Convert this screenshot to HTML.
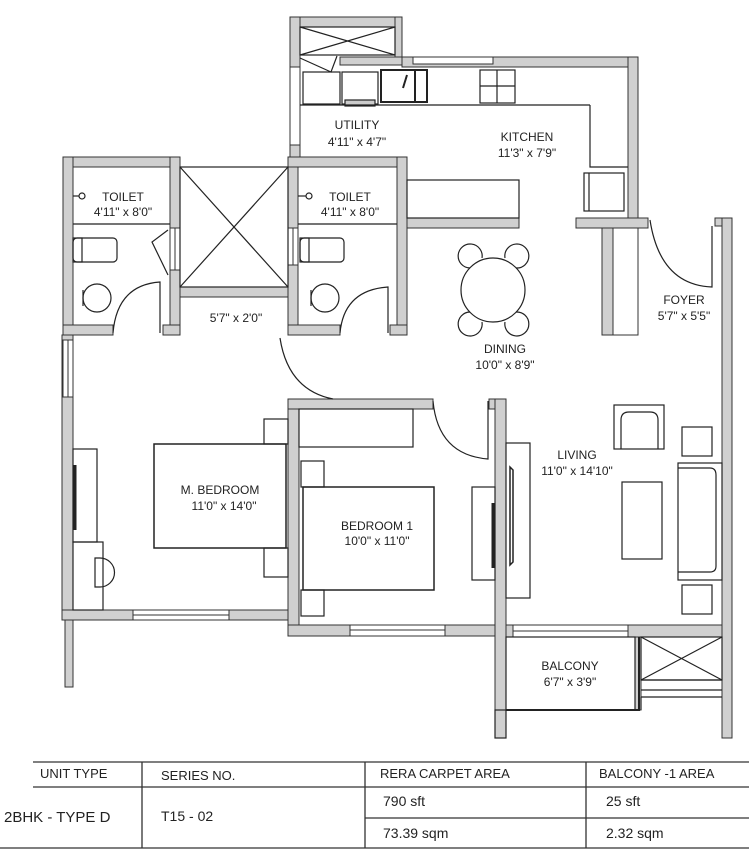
<!DOCTYPE html>
<html><head><meta charset="utf-8"><style>
html,body{margin:0;padding:0;background:#fff;}
svg{display:block;}
text{font-family:"Liberation Sans",sans-serif;fill:#222;}
</style></head><body>
<svg width="749" height="850" viewBox="0 0 749 850" xmlns="http://www.w3.org/2000/svg">
<g fill="#d0d0d0" stroke="#333" stroke-width="1">
<rect x="290" y="17" width="112" height="10"/>
<rect x="290" y="17" width="10" height="140"/>
<rect x="395" y="17" width="7" height="48"/>
<rect x="340" y="57" width="62" height="8"/>
<rect x="402" y="57" width="236" height="10"/>
<rect x="628" y="57" width="10" height="171"/>
<rect x="576" y="218" width="72" height="10"/>
<rect x="602" y="228" width="11" height="107"/>
<rect x="613" y="228" width="25" height="107" fill="#fff"/>
<rect x="715" y="218" width="17" height="8"/>
<rect x="722" y="218" width="10" height="520"/>
<rect x="63" y="157" width="117" height="10"/>
<rect x="63" y="157" width="10" height="178"/>
<rect x="170" y="157" width="10" height="178"/>
<rect x="180" y="287" width="108" height="10"/>
<rect x="288" y="157" width="10" height="178"/>
<rect x="288" y="157" width="117" height="10"/>
<rect x="397" y="157" width="10" height="178"/>
<rect x="63" y="325" width="50" height="10"/>
<rect x="163" y="325" width="17" height="10"/>
<rect x="288" y="325" width="52" height="10"/>
<rect x="390" y="325" width="17" height="10"/>
<rect x="407" y="218" width="112" height="10"/>
<rect x="62" y="335" width="11" height="285"/>
<rect x="62" y="610" width="237" height="10"/>
<rect x="65" y="620" width="8" height="67"/>
<rect x="288" y="399" width="11" height="237"/>
<rect x="288" y="399" width="145" height="10"/>
<rect x="288" y="625" width="218" height="11"/>
<rect x="489" y="399" width="17" height="10"/>
<rect x="495" y="399" width="11" height="339"/>
<rect x="506" y="625" width="216" height="12"/>
<rect x="635" y="637" width="6" height="73"/>
</g>
<g fill="#fff" stroke="#333" stroke-width="1">
<rect x="133" y="610" width="96" height="10"/><line x1="133" y1="615" x2="229" y2="615"/>
<rect x="350" y="625" width="95" height="11"/><line x1="350" y1="630" x2="445" y2="630"/>
<rect x="513" y="625" width="115" height="12"/><line x1="513" y1="631" x2="628" y2="631"/>
<rect x="63" y="340" width="10" height="57"/><line x1="68" y1="340" x2="68" y2="397"/>
<rect x="170" y="228" width="10" height="42"/><line x1="175" y1="228" x2="175" y2="270"/>
<rect x="288" y="228" width="10" height="37"/><line x1="293" y1="228" x2="293" y2="265"/>
<rect x="290" y="67" width="10" height="78"/>
<rect x="413" y="57" width="80" height="7"/>
</g>
<g fill="none" stroke="#222" stroke-width="1.2">
<rect x="300" y="27" width="95" height="28"/><line x1="300" y1="27" x2="395" y2="55"/><line x1="300" y1="55" x2="395" y2="27"/>
<rect x="180" y="167" width="108" height="120"/><line x1="180" y1="167" x2="288" y2="287"/><line x1="288" y1="167" x2="180" y2="287"/>
<rect x="641" y="637" width="81" height="43"/><line x1="641" y1="637" x2="722" y2="680"/><line x1="722" y1="637" x2="641" y2="680"/>
<line x1="641" y1="680" x2="722" y2="680"/><line x1="641" y1="690" x2="722" y2="690"/>
<line x1="641" y1="697" x2="722" y2="697"/>
<path d="M300 58 L331 72 L337 56"/>
<rect x="303" y="72" width="37" height="32"/><rect x="342" y="72" width="36" height="32"/>
<rect x="345" y="100" width="30" height="6" fill="#ccc"/>
<rect x="381" y="70" width="34" height="32" stroke-width="2"/><rect x="415" y="70" width="12" height="32" stroke-width="2"/>
<line x1="407" y1="75" x2="403" y2="88" stroke-width="2"/>
<line x1="300" y1="105" x2="590" y2="105"/>
<rect x="480" y="70" width="35" height="33"/><line x1="497" y1="70" x2="497" y2="103"/><line x1="480" y1="86" x2="515" y2="86"/>
<path d="M590 105 L590 167 L628 167"/>
<rect x="584" y="173" width="40" height="38"/><line x1="589" y1="173" x2="589" y2="211"/>
<rect x="407" y="180" width="112" height="38"/>
<path d="M650 220 Q660 285 712 287 L712 226"/>
<line x1="73" y1="224" x2="170" y2="224"/><line x1="298" y1="224" x2="397" y2="224"/>
<rect x="73" y="238" width="44" height="24" rx="4"/><rect x="73" y="238" width="9" height="24"/>
<rect x="300" y="238" width="44" height="24" rx="4"/><rect x="300" y="238" width="9" height="24"/>
<circle cx="97" cy="298" r="14"/><path d="M83 290 L83 306"/>
<circle cx="325" cy="298" r="14"/><path d="M311 290 L311 306"/>
<path d="M113 333 Q117 285 160 282 L160 333"/>
<path d="M340 333 Q344 290 388 287 L388 333"/>
<path d="M168 230 L152 242 L168 275"/>
<circle cx="82" cy="196" r="3"/><line x1="73" y1="196" x2="79" y2="196"/>
<circle cx="309" cy="196" r="3"/><line x1="298" y1="196" x2="306" y2="196"/>
<path d="M280 338 Q288 390 333 399"/>
<circle cx="493" cy="290" r="32"/>
<path d="M470 268 A12 12 0 1 1 482 258"/><path d="M505 258 A12 12 0 1 1 516 268"/>
<path d="M470 312 A12 12 0 1 0 482 322"/><path d="M505 322 A12 12 0 1 0 516 312"/>
<rect x="154" y="444" width="132" height="104" stroke-width="1.5"/>
<rect x="264" y="419" width="24" height="25"/><rect x="264" y="548" width="24" height="29"/>
<rect x="73" y="449" width="24" height="93"/><line x1="75" y1="465" x2="75" y2="530" stroke-width="3"/>
<rect x="73" y="542" width="30" height="68"/>
<path d="M95 558 L100 558 A14 14 0 0 1 100 587 L95 587 Z"/>
<rect x="299" y="409" width="114" height="38"/>
<rect x="303" y="487" width="131" height="103" stroke-width="1.5"/>
<rect x="301" y="461" width="23" height="26"/><rect x="301" y="590" width="23" height="26"/>
<rect x="472" y="487" width="23" height="93"/><line x1="493" y1="503" x2="493" y2="568" stroke-width="3"/>
<path d="M433 401 Q438 455 488 459 L488 401"/>
<rect x="506" y="443" width="24" height="155"/>
<path d="M510 467 L513 470 L513 562 L510 565 Z" stroke-width="1.5"/>
<rect x="614" y="405" width="50" height="44"/>
<path d="M621 449 L621 420 Q621 412 629 412 L650 412 Q658 412 658 420 L658 449"/>
<rect x="682" y="427" width="30" height="29"/>
<rect x="678" y="463" width="44" height="117"/>
<path d="M678 468 L710 468 Q716 468 716 475 L716 566 Q716 572 710 572 L678 572"/>
<rect x="682" y="585" width="30" height="29"/>
<rect x="622" y="482" width="40" height="77"/>
<rect x="506" y="637" width="129" height="73"/>
<path d="M506 710 L639 710 L639 637" stroke-width="2"/>
<rect x="495" y="710" width="11" height="28"/>
<line x1="641" y1="697" x2="641" y2="710"/>
</g>
<g font-size="12" text-anchor="middle">
<text x="357" y="129">UTILITY</text><text x="357" y="146">4'11" x 4'7"</text>
<text x="527" y="141">KITCHEN</text><text x="527" y="157">11'3" x 7'9"</text>
<text x="123" y="201">TOILET</text><text x="123" y="216">4'11" x 8'0"</text>
<text x="350" y="201">TOILET</text><text x="350" y="216">4'11" x 8'0"</text>
<text x="236" y="322">5'7" x 2'0"</text>
<text x="684" y="304">FOYER</text><text x="684" y="320">5'7" x 5'5"</text>
<text x="505" y="353">DINING</text><text x="505" y="369">10'0" x 8'9"</text>
<text x="577" y="459">LIVING</text><text x="577" y="475">11'0" x 14'10"</text>
<text x="220" y="494">M. BEDROOM</text><text x="224" y="510">11'0" x 14'0"</text>
<text x="377" y="530">BEDROOM 1</text><text x="377" y="545">10'0" x 11'0"</text>
<text x="570" y="670">BALCONY</text><text x="570" y="686">6'7" x 3'9"</text>
</g>
<g stroke="#333" stroke-width="1.3">
<line x1="33" y1="762" x2="749" y2="762"/>
<line x1="33" y1="787" x2="749" y2="787"/>
<line x1="365" y1="818" x2="749" y2="818"/>
<line x1="0" y1="848" x2="749" y2="848"/>
<line x1="142" y1="762" x2="142" y2="848"/>
<line x1="365" y1="762" x2="365" y2="848"/>
<line x1="586" y1="762" x2="586" y2="848"/>
</g>
<g font-size="13">
<text x="40" y="778">UNIT TYPE</text>
<text x="161" y="780">SERIES NO.</text>
<text x="380" y="778">RERA CARPET AREA</text>
<text x="599" y="778">BALCONY -1  AREA</text>
<text x="4" y="822" font-size="15">2BHK - TYPE D</text>
<text x="161" y="821" font-size="14">T15 - 02</text>
<text x="383" y="806" font-size="14">790 sft</text>
<text x="383" y="838" font-size="14">73.39 sqm</text>
<text x="606" y="806" font-size="14">25 sft</text>
<text x="606" y="838" font-size="14">2.32 sqm</text>
</g>
</svg>
</body></html>
